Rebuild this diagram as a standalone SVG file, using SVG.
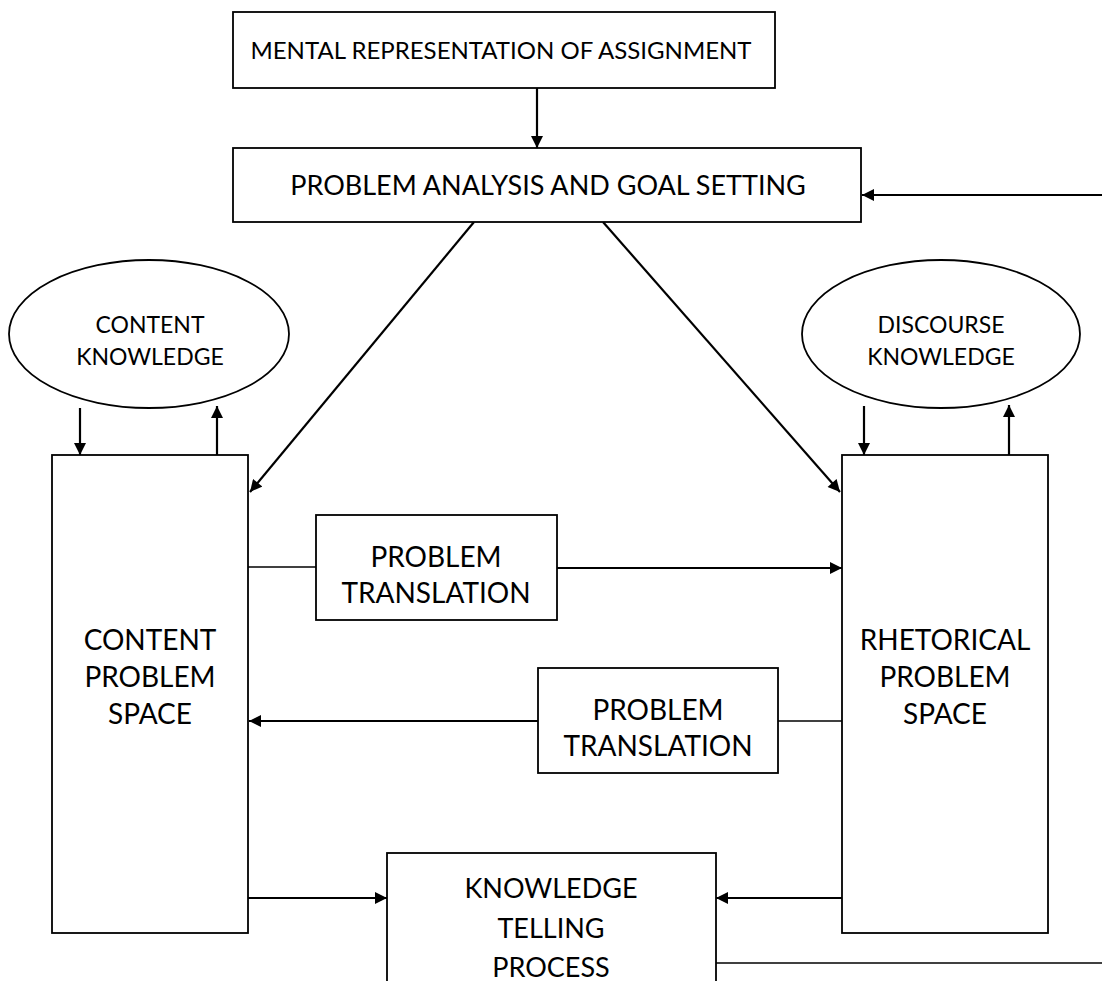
<svg xmlns="http://www.w3.org/2000/svg" width="1102" height="981" viewBox="0 0 1102 981">
  <defs>
    <marker id="arrow" viewBox="0 0 12 12" refX="12" refY="6" markerWidth="13" markerHeight="12" markerUnits="userSpaceOnUse" orient="auto">
      <path d="M0,0 L12,6 L0,12 z" fill="#000"/>
    </marker>
    <style>
      .box { fill: #fff; stroke: #000; stroke-width: 1.8; }
      .lbl { font-family: Lato, "Open Sans", sans-serif; font-size: 28px; fill: #000; text-anchor: middle; }
      .top { font-size: 24px; }
      .goal { font-size: 27px; }
      .kt { font-size: 27px; }
      .small { font-size: 23px; }
      .edge { fill: none; stroke: #000; stroke-width: 2.2; }
      .thin { fill: none; stroke: #000; stroke-width: 1.4; }
      .arr { marker-end: url(#arrow); }
    </style>
  </defs>
  <rect width="1102" height="981" fill="#fff"/>

  <g id="connectors">
    <line class="edge arr" x1="537" y1="88" x2="537" y2="148"/>
    <line class="edge arr" x1="1102" y1="195" x2="862" y2="195"/>
    <line class="edge arr" x1="474" y1="222" x2="250" y2="492"/>
    <line class="edge arr" x1="603" y1="222" x2="840" y2="492"/>
    <line class="edge arr" x1="80" y1="408" x2="80" y2="455"/>
    <line class="edge arr" x1="217" y1="455" x2="217" y2="406"/>
    <line class="edge arr" x1="864" y1="406" x2="864" y2="455"/>
    <line class="edge arr" x1="1009" y1="455" x2="1009" y2="405"/>
    <line class="thin" x1="248" y1="567" x2="316" y2="567"/>
    <line class="edge arr" x1="557" y1="568" x2="842" y2="568"/>
    <line class="edge arr" x1="538" y1="721" x2="249" y2="721"/>
    <line class="thin" x1="778" y1="721" x2="842" y2="721"/>
    <line class="edge arr" x1="248" y1="898" x2="387" y2="898"/>
    <line class="edge arr" x1="842" y1="898" x2="716" y2="898"/>
    <line class="thin" x1="716" y1="963" x2="1102" y2="963"/>
  </g>

  <g id="mental-representation">
    <rect class="box" x="233" y="12" width="542" height="76"/>
    <text class="lbl top" x="501" y="59">MENTAL REPRESENTATION OF ASSIGNMENT</text>
  </g>

  <g id="problem-analysis">
    <rect class="box" x="233" y="148" width="628" height="74"/>
    <text class="lbl goal" x="548" y="195">PROBLEM ANALYSIS AND GOAL SETTING</text>
  </g>

  <g id="content-knowledge">
    <ellipse class="box" cx="149" cy="334" rx="140" ry="74"/>
    <text class="lbl small" x="150" y="333">CONTENT</text>
    <text class="lbl small" x="150" y="365">KNOWLEDGE</text>
  </g>

  <g id="discourse-knowledge">
    <ellipse class="box" cx="941" cy="334" rx="139" ry="74"/>
    <text class="lbl small" x="941" y="333">DISCOURSE</text>
    <text class="lbl small" x="941" y="365">KNOWLEDGE</text>
  </g>

  <g id="content-problem-space">
    <rect class="box" x="52" y="455" width="196" height="478"/>
    <text class="lbl" x="150" y="650">CONTENT</text>
    <text class="lbl" x="150" y="687">PROBLEM</text>
    <text class="lbl" x="150" y="724">SPACE</text>
  </g>

  <g id="rhetorical-problem-space">
    <rect class="box" x="842" y="455" width="206" height="478"/>
    <text class="lbl" x="945" y="650">RHETORICAL</text>
    <text class="lbl" x="945" y="687">PROBLEM</text>
    <text class="lbl" x="945" y="724">SPACE</text>
  </g>

  <g id="translation-to-rhetorical">
    <rect class="box" x="316" y="515" width="241" height="105"/>
    <text class="lbl" x="436" y="567">PROBLEM</text>
    <text class="lbl" x="436" y="603">TRANSLATION</text>
  </g>

  <g id="translation-to-content">
    <rect class="box" x="538" y="668" width="240" height="105"/>
    <text class="lbl" x="658" y="720">PROBLEM</text>
    <text class="lbl" x="658" y="756">TRANSLATION</text>
  </g>

  <g id="knowledge-telling">
    <rect class="box" x="387" y="853" width="329" height="140"/>
    <text class="lbl kt" x="551" y="898">KNOWLEDGE</text>
    <text class="lbl kt" x="551" y="938">TELLING</text>
    <text class="lbl kt" x="551" y="977">PROCESS</text>
  </g>
</svg>
